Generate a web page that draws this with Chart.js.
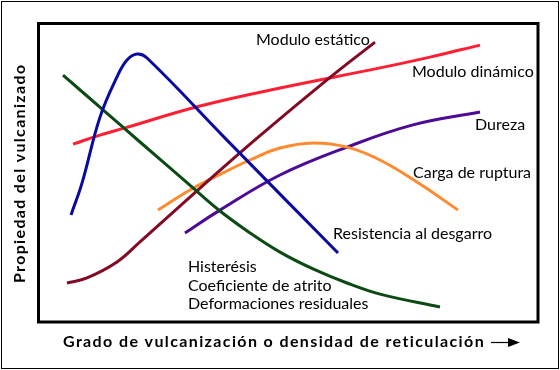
<!DOCTYPE html>
<html>
<head>
<meta charset="utf-8">
<script src="https://cdn.jsdelivr.net/npm/chart.js@4.4.0/dist/chart.umd.min.js"></script>
<style>
html,body{margin:0;padding:0;background:#fff;}
#wrap{width:560px;height:370px;}
</style>
</head>
<body>
<div id="wrap"><canvas id="c" width="560" height="370"></canvas></div>
<script>
// Data (arbitrary units 0..100 on both axes)
const desgarroX = [6.6, 8.8, 12.4, 15.8, 17.8, 19.8, 21.8, 37.4, 60];
const desgarroY = [35.7, 46.3, 68.3, 81.7, 87.3, 89.3, 88, 61.3, 23];
const histX = [5, 13, 20.4, 31, 36.4, 42.4, 48.4, 55, 61.8, 68.4, 80.4];
const histY = [82.3, 70.7, 60, 44.7, 37, 29.7, 23.3, 17.7, 13, 9.3, 5];
const estaticoX = [5.8, 9.8, 15.8, 20.4, 33.8, 43.4, 57.8, 67.4];
const estaticoY = [13, 14.7, 20, 26.7, 46.7, 60.7, 80.7, 93.3];
const dinamicoX = [7, 12.4, 17.4, 32.4, 48.4, 68.4, 78.4, 88.4];
const dinamicoY = [59.3, 62.3, 64.7, 72, 78, 84.7, 88.3, 92.3];
const rupturaX = [24, 30.4, 37, 42.4, 48.4, 55, 61.8, 68.4, 76.4, 84];
const rupturaY = [37.3, 44, 49.7, 54, 58, 59.7, 58.3, 54, 46, 37.3];
const durezaX = [29.4, 36.4, 48.4, 61.8, 75, 88.4];
const durezaY = [29.7, 37.3, 49, 58.3, 65.7, 70];

const seriesNames = ["Resistencia al desgarro", "Histerésis", "Modulo estático", "Modulo dinámico", "Carga de ruptura", "Dureza"];

const yTitle = "Propiedad del vulcanizado";
const xTitle = "Grado de vulcanización o densidad de reticulación";

// Label annotations inside the plot
const labels = [
  {t: "Modulo estático", x: 43.6, y: 94},
  {t: "Modulo dinámico", x: 74.8, y: 83.3},
  {t: "Dureza", x: 87.4, y: 65.7},
  {t: "Carga de ruptura", x: 75, y: 49.7},
  {t: "Resistencia al desgarro", x: 59, y: 29.3},
  {t: "Histerésis", x: 30, y: 18.3},
  {t: "Coeficiente de atrito", x: 30, y: 12},
  {t: "Deformaciones residuales", x: 30, y: 6}
];

function pts(xs, ys){ return xs.map((x,i)=>({x:x, y:ys[i]})); }

const colors = ["#0a0aa0", "#0b4a12", "#820a24", "#ff1f33", "#ff8a30", "#4d0a94"];
const data = [
  pts(desgarroX, desgarroY), pts(histX, histY), pts(estaticoX, estaticoY),
  pts(dinamicoX, dinamicoY), pts(rupturaX, rupturaY), pts(durezaX, durezaY)
];

const FONT = "Lato, 'Open Sans', sans-serif";

function fitSpacing(ctx, text, target){
  ctx.letterSpacing = '0px';
  const w = ctx.measureText(text).width;
  const s = (target - w) / (text.length - 1);
  ctx.letterSpacing = Math.max(0, s).toFixed(2) + 'px';
}

const decor = {
  id: 'decor',
  afterDraw(chart){
    const ctx = chart.ctx;
    const a = chart.chartArea;
    const xs = chart.scales.x, ys = chart.scales.y;
    ctx.save();
    // outer frame
    ctx.strokeStyle = '#000';
    ctx.lineWidth = 1;
    ctx.strokeRect(1.5, 1.5, 557, 367);
    // plot frame
    ctx.lineWidth = 3;
    ctx.strokeRect(a.left + 0.5, a.top + 1.5, a.right - a.left - 0.5, a.bottom - a.top - 1.5);
    // labels
    ctx.fillStyle = '#000';
    ctx.font = "16px " + FONT;
    ctx.textBaseline = 'middle';
    ctx.textAlign = 'left';
    labels.forEach(l => ctx.fillText(l.t, xs.getPixelForValue(l.x), ys.getPixelForValue(l.y)));
    // axis titles
    ctx.font = "bold 16px " + FONT;
    ctx.save();
    ctx.translate(20, 174);
    ctx.rotate(-Math.PI/2);
    ctx.textAlign = 'left';
    fitSpacing(ctx, yTitle, 218);
    ctx.fillText(yTitle, -109, 0);
    ctx.restore();
    ctx.textAlign = 'left';
    fitSpacing(ctx, xTitle, 421);
    ctx.fillText(xTitle, 63, 342);
    ctx.letterSpacing = '0px';
    // arrow
    ctx.lineWidth = 1.2;
    ctx.beginPath();
    ctx.moveTo(491, 342.5); ctx.lineTo(512, 342.5);
    ctx.stroke();
    ctx.beginPath();
    ctx.moveTo(508, 338); ctx.lineTo(520, 342.5); ctx.lineTo(508, 347); ctx.closePath();
    ctx.fill();
    ctx.restore();
  }
};

new Chart(document.getElementById('c'), {
  type: 'line',
  data: {
    datasets: data.map((d,i)=>({
      label: seriesNames[i],
      data: d,
      borderColor: colors[i],
      borderWidth: 3,
      pointRadius: 0,
      fill: false,
      tension: 0.4
    }))
  },
  options: {
    responsive: false,
    animation: false,
    layout: {padding: {left: 38, right: 22, top: 22, bottom: 48}},
    plugins: {legend: {display: false}, tooltip: {enabled: false}},
    scales: {
      x: {type: 'linear', min: 0, max: 100, display: false},
      y: {type: 'linear', min: 0, max: 100, display: false}
    }
  },
  plugins: [decor]
});
</script>
</body>
</html>
